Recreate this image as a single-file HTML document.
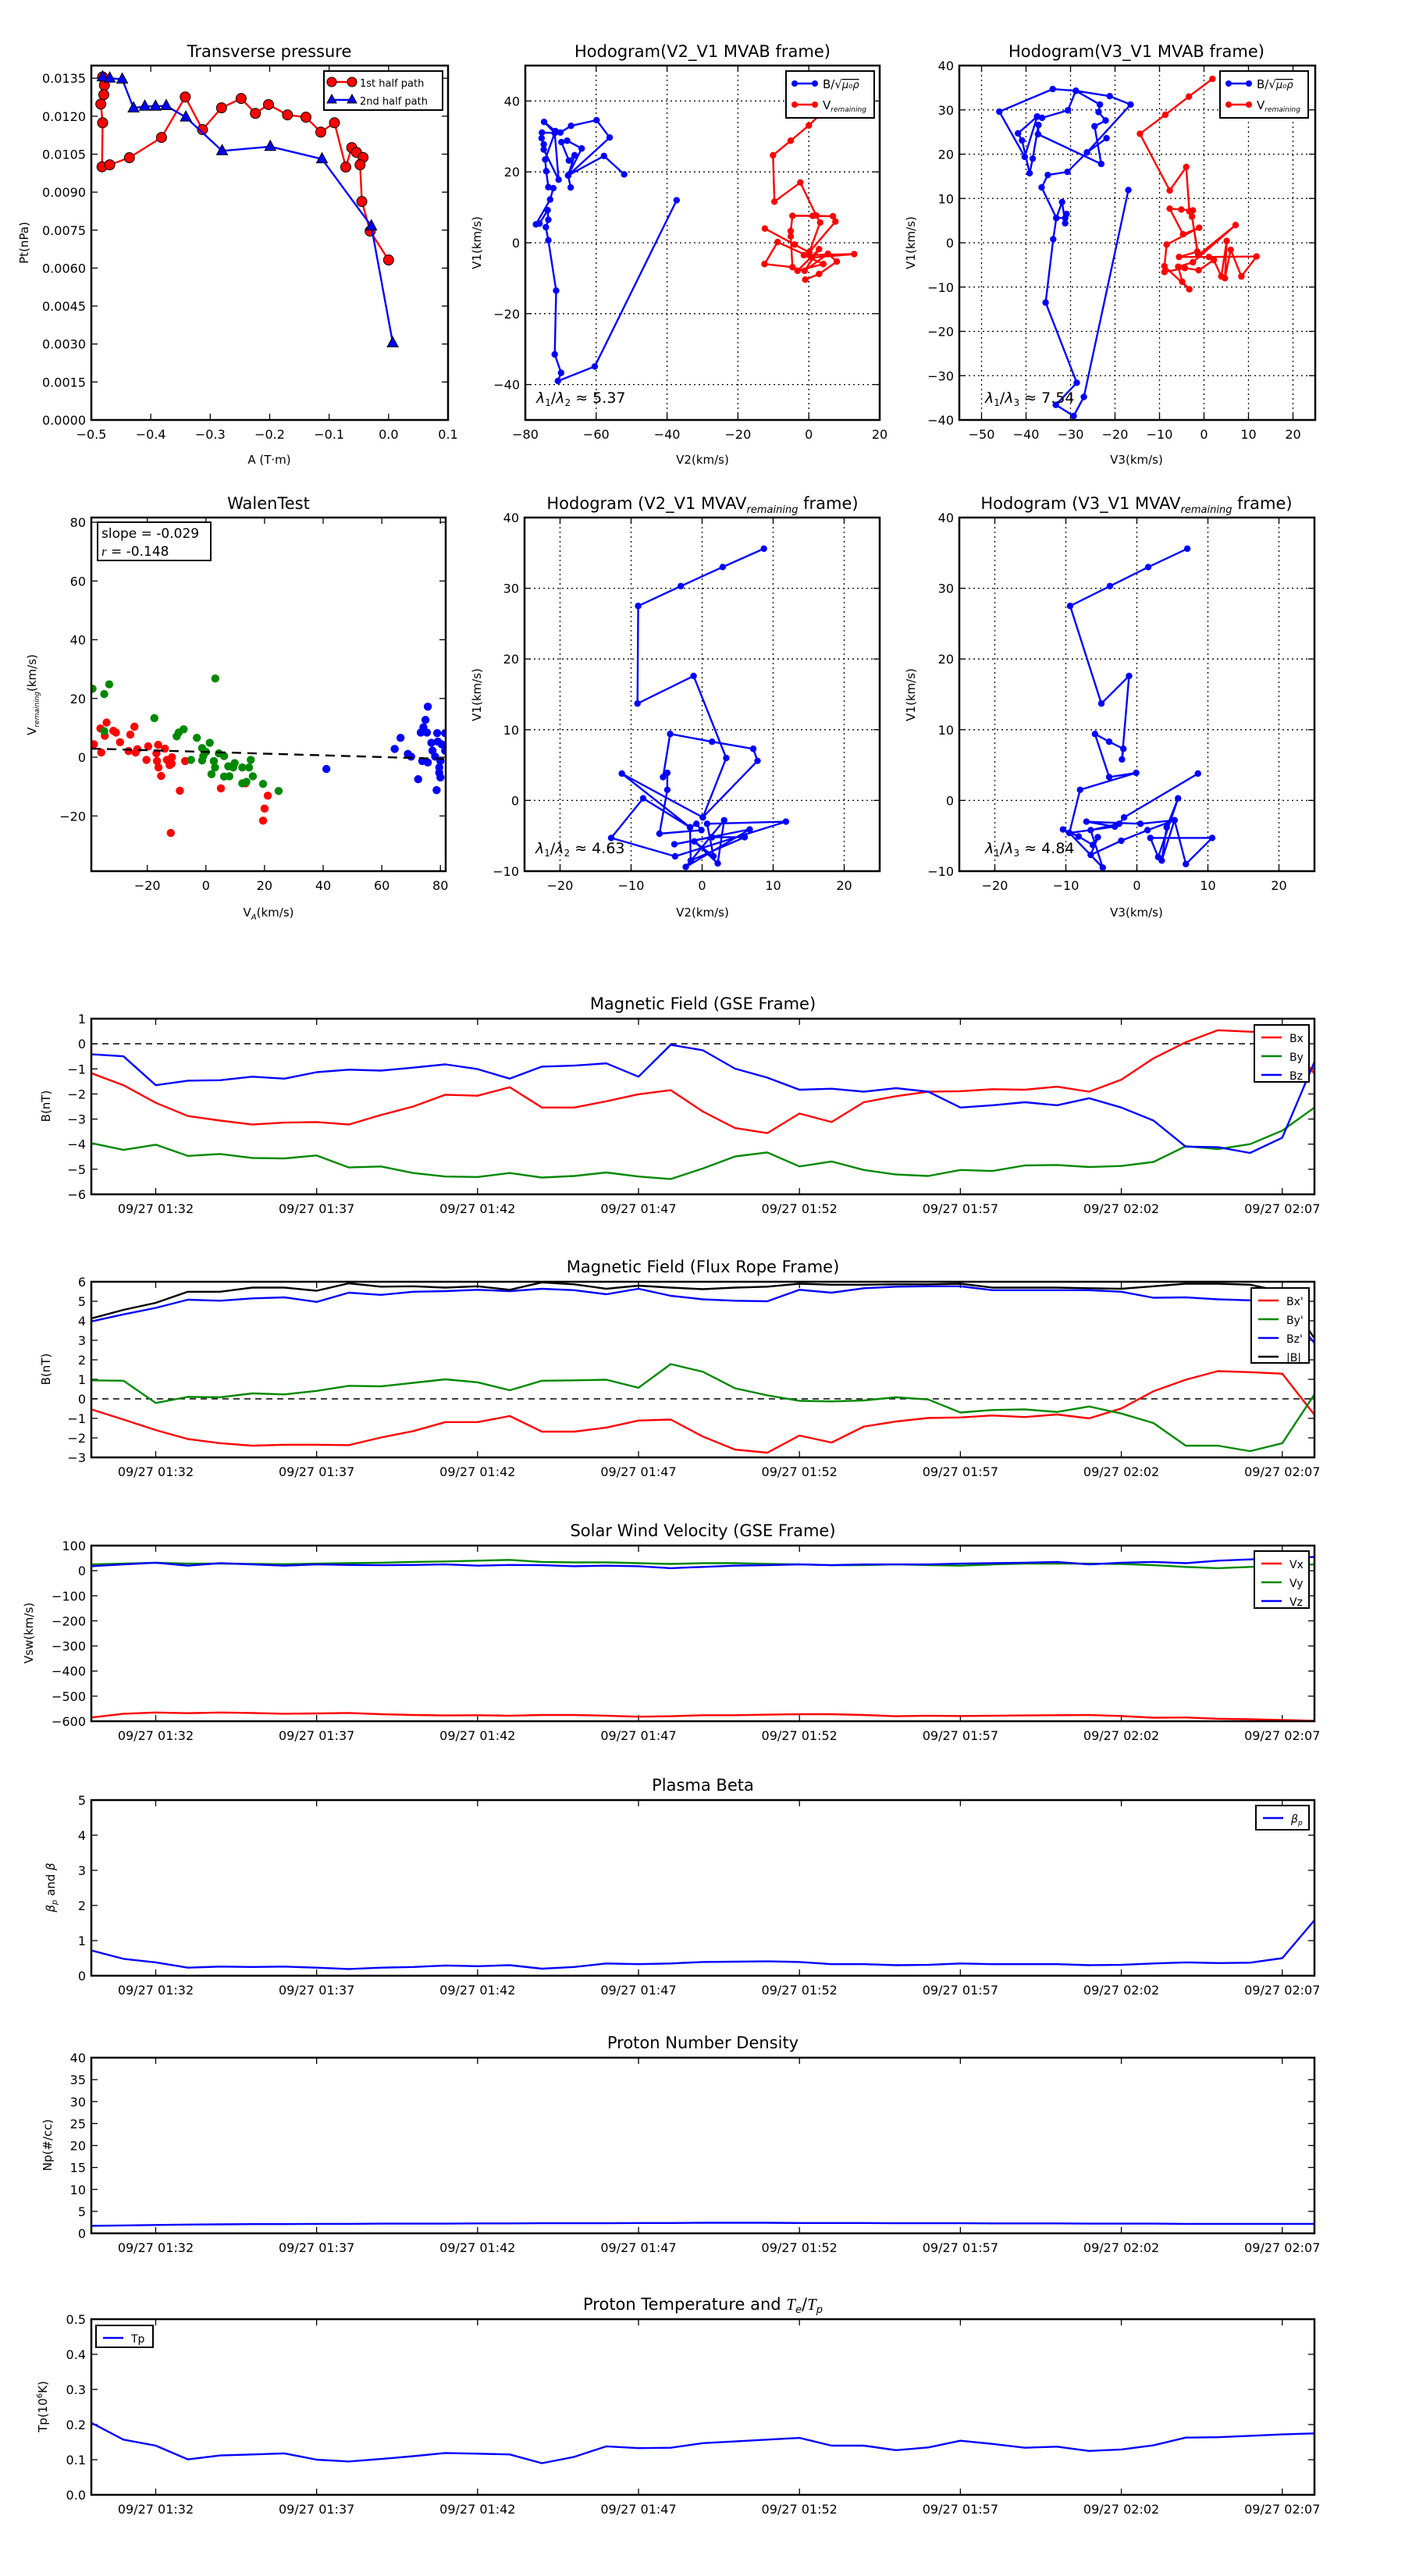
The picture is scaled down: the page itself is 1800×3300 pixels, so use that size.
<!DOCTYPE html>
<html><head><meta charset="utf-8">
<style>
html,body{margin:0;padding:0;background:#fff;}
svg{display:block;font-family:"DejaVu Sans","Liberation Sans",sans-serif;}
</style></head>
<body>
<svg id="fig" xmlns="http://www.w3.org/2000/svg" width="1800" height="3300" viewBox="0 0 1800 3300"></svg>
<script>
// ---------------- DATA ----------------
const pt1A = [-0.481,-0.478,-0.479,-0.484,-0.481,-0.482,-0.469,-0.436,-0.382,-0.342,-0.313,-0.281,-0.248,-0.224,-0.202,-0.170,-0.139,-0.114,-0.091,-0.072,-0.062,-0.054,-0.043,-0.048,-0.045,-0.031,0.0];
const pt1P = [0.01355,0.01322,0.01285,0.01248,0.01174,0.0100,0.01008,0.01036,0.01116,0.01276,0.01147,0.01233,0.0127,0.01211,0.01246,0.01205,0.01196,0.01137,0.01174,0.00999,0.01076,0.01057,0.01037,0.01008,0.00863,0.00746,0.00632];
const pt2A = [-0.481,-0.469,-0.448,-0.429,-0.410,-0.392,-0.374,-0.341,-0.280,-0.199,-0.112,-0.029,0.007];
const pt2P = [0.01355,0.0135,0.01346,0.01232,0.01239,0.01239,0.01241,0.01196,0.01063,0.0108,0.01031,0.00766,0.00304];
const ptYTicks = [0,0.0015,0.003,0.0045,0.006,0.0075,0.009,0.0105,0.012,0.0135];
const ptXTicks = [-0.5,-0.4,-0.3,-0.2,-0.1,0.0,0.1];

const mvabB21 = [[-52.1,19.3],[-57.8,24.5],[-67.9,19],[-67.2,15.6],[-67.9,19],[-66.1,24.7],[-67.7,23.2],[-69.8,28.4],[-68.2,28.8],[-64.1,26.6],[-67.9,19],[-56.2,29.7],[-59.9,34.6],[-67.1,33],[-70.1,31.1],[-71.5,31.5],[-74.7,34.1],[-71.7,31],[-75.3,31.1],[-75.4,29.5],[-74.8,27.8],[-74.8,26.3],[-70.6,17.8],[-71.7,31],[-74.4,23.5],[-74.1,20.2],[-73.5,15.7],[-72.1,15.4],[-73,12.2],[-77,5.2],[-76,5.4],[-73.7,9.2],[-73.5,6.5],[-74.2,4.4],[-73.5,0.7],[-71.3,-13.5],[-71.7,-31.5],[-69.9,-36.7],[-70.8,-39],[-60.4,-34.9],[-37.3,12]];
const mvabV21 = [[3,36],[0,33.1],[-5.1,28.8],[-10.1,24.7],[-9.7,11.6],[-2.4,17],[2.1,7.7],[3.2,5.7],[0.1,-2.7],[-4,-0.5],[-12.4,4],[0.1,-2.7],[7.5,6],[6.8,7.5],[1.1,7.6],[-4.6,7.6],[-5.1,3.3],[-5.1,1.8],[-4.6,-6.9],[-12.5,-6],[-8.8,0.2],[0.8,-4.2],[12.8,-3.2],[-1.4,-3.5],[4.1,-6],[-3.2,-7.9],[2.9,-1.8],[-1.2,-7.9],[5.4,-3.1],[7.9,-5.3],[2.9,-8.8],[-1,-10.4]];
const mvabB31 = [[-17,11.9],[-27,-34.8],[-29.3,-39.1],[-33.3,-36.6],[-28.6,-31.6],[-35.6,-13.5],[-33.9,0.8],[-33.2,5.6],[-31.2,5.6],[-30.9,6.5],[-31.2,4.4],[-31.9,9.2],[-33.2,5.6],[-36.5,12.5],[-35.1,15.3],[-30.7,16],[-26.3,20.4],[-21.9,23.6],[-26.3,20.4],[-16.5,31.2],[-21.2,33.1],[-28.8,34.3],[-30.6,29.9],[-36.4,28.2],[-37.5,28.5],[-41.8,24.7],[-40.9,23.1],[-39.2,15.7],[-38.5,19],[-37.2,26.6],[-37.3,24.5],[-23.1,17.8],[-24.6,26.3],[-22.1,27.6],[-23.7,29.5],[-23.4,31.2],[-28.8,34.3],[-34,34.7],[-46,29.6],[-40.3,19.4],[-37.5,28.5]];
const mvabV31 = [[1.9,37],[-3.4,33],[-8.7,28.9],[-14.4,24.6],[-7.7,11.8],[-4,17.1],[-3.3,7.1],[-2.5,7.3],[-5.1,7.5],[-7.7,7.7],[-4.7,1.9],[-1.1,3.4],[-8.4,-0.4],[-8.9,-5.3],[-3.3,-10.5],[-4.9,-8.8],[-5.8,-5.4],[-2.5,-4.4],[7.1,4],[-1.3,-2.8],[-2.7,5.9],[-1.5,-2],[-5.6,-3.2],[1.1,-3.2],[11.8,-3.1],[8.4,-7.6],[6,-1.6],[4.7,-8],[5.1,0.4],[3.9,-7.6],[2.2,-3.9],[-1.2,-6.2],[-4.3,-5.7],[-8.9,-6.6]];
const walenRed = [[-38.2,4.4],[-35.7,1.6],[-36,9.8],[-33.9,11.8],[-34.5,7.3],[-31.6,9],[-30.7,8.4],[-29.3,5.1],[-26.4,2.1],[-25.8,7.7],[-24.4,10.4],[-24,1.6],[-23.4,2.7],[-20.3,-0.9],[-19.7,3.7],[-16.9,1.3],[-16.3,4.2],[-14,2.9],[-16.7,-1.3],[-16.2,-3.5],[-15.3,-6.4],[-13.3,-0.9],[-12.4,-2.7],[-11.6,0],[-11.7,-2.2],[-7.1,-1.3],[-8.9,-11.4],[-12,-25.8],[5.1,-10.6],[21.1,-13.1],[20,-17.5],[19.5,-21.6],[13.5,-8.9]];
const walenGreen = [[-38.7,23.3],[-33,24.8],[-34.7,21.5],[-34.7,8.9],[-17.6,13.3],[-10,7.1],[-9.3,8.4],[-7.6,9.5],[-3.1,6.6],[3.2,26.8],[-5.1,-0.9],[-1.3,3.1],[1.3,4.9],[-0.9,0.4],[0,1.8],[-1.3,-1.1],[2.7,-1.3],[4.4,1.3],[6.2,0.4],[3.1,-3.5],[1.9,-5.8],[6.2,-6.6],[8,-6.5],[7.6,-3.1],[9.8,-2],[9.3,-3.5],[12.4,-3.5],[14.7,-3.5],[15.3,-0.9],[16,-6.5],[12.4,-8.9],[13.8,-8.4],[19.5,-9.1],[24.8,-11.5]];
const walenBlue = [[41.1,-4],[64.4,2.8],[66.4,6.6],[68.9,1.1],[70,0.2],[72.4,-7.5],[73.3,8.4],[74.2,10.2],[74.9,12.7],[75.7,17.2],[75.4,8.4],[73.8,-1.3],[75.7,-1.8],[76.9,4.9],[77.3,2.2],[78.2,0.2],[78.9,8.2],[78.7,-11.2],[79.6,-3.5],[80,-6.9],[79.6,-5.3],[80.4,4.4],[81.6,8.2],[81.6,2.2],[80,-1.3],[79.1,5.3]];
const walenSlope = -0.029;
const walenIntercept = 1.8;
const mvavB21 = [[8.7,35.6],[2.9,33],[-3,30.3],[-9,27.5],[-9.1,13.7],[-1.2,17.6],[3.4,6],[0.1,-2.4],[7.8,5.6],[7.2,7.3],[1.4,8.3],[-4.5,9.4],[-5.5,3.3],[-4.9,3.9],[-4.9,1.5],[-6,-4.7],[-0.1,-4.2],[-0.8,-3.3],[-1.7,-3.8],[-1.6,-8.5],[6,-5.2],[1.4,-5.2],[-3.9,-6.2],[6.7,-4.1],[-2.3,-9.4],[3.1,-2.8],[2.2,-8.9],[-1.1,-5.8],[1.6,-7.9],[0.7,-3.3],[11.8,-3],[-3.8,-7.9],[-12.8,-5.3],[-8.3,0.3],[-1.7,-3.8],[-11.3,3.8],[0.1,-2.4]];
const mvavB31 = [[7.1,35.6],[1.6,33],[-3.8,30.3],[-9.4,27.5],[-5,13.7],[-1.1,17.6],[-2.1,5.8],[-1.9,7.3],[-3.9,8.3],[-5.9,9.4],[-3.9,3.3],[-0.1,3.9],[-8,1.5],[-9.5,-4.6],[-10.4,-4.1],[-8.2,-5.1],[-6.2,-6.3],[-5.5,-5.2],[-6.5,-7.7],[-2.2,-5.7],[1.5,-4.2],[5.3,-2.8],[3.5,-8.5],[4.2,-3.8],[5.8,0.3],[3,-8],[1.9,-5.3],[10.6,-5.3],[6.9,-9],[5.3,-2.8],[0.5,-3.3],[-7.1,-3],[-3.1,-3.7],[-9.5,-4.6],[-4.8,-9.5],[-6.5,-4.2],[-2.5,-3.3],[-1.8,-2.4],[8.6,3.8]];

const timeMinutes = Array.from({length:39},(_, i)=>i);
const timeTickMin = [2,7,12,17,22,27,32,37];
const timeTickLabels = ["09/27 01:32","09/27 01:37","09/27 01:42","09/27 01:47","09/27 01:52","09/27 01:57","09/27 02:02","09/27 02:07"];
const gseBx = [-1.17,-1.65,-2.35,-2.88,-3.06,-3.22,-3.14,-3.12,-3.22,-2.84,-2.5,-2.03,-2.07,-1.73,-2.54,-2.54,-2.29,-2.01,-1.85,-2.7,-3.36,-3.56,-2.78,-3.12,-2.33,-2.09,-1.91,-1.89,-1.81,-1.83,-1.71,-1.91,-1.43,-0.58,0.06,0.54,0.48,0.44,-1.19];
const gseBy = [-3.96,-4.23,-4.02,-4.47,-4.39,-4.55,-4.57,-4.45,-4.93,-4.89,-5.15,-5.29,-5.31,-5.15,-5.33,-5.27,-5.13,-5.29,-5.39,-4.97,-4.49,-4.33,-4.89,-4.69,-5.03,-5.21,-5.27,-5.03,-5.07,-4.85,-4.83,-4.91,-4.87,-4.71,-4.08,-4.2,-4.0,-3.46,-2.54];
const gseBz = [-0.42,-0.5,-1.65,-1.47,-1.45,-1.31,-1.39,-1.13,-1.03,-1.07,-0.95,-0.82,-1.01,-1.39,-0.91,-0.87,-0.78,-1.31,-0.04,-0.26,-0.99,-1.35,-1.83,-1.79,-1.91,-1.77,-1.91,-2.54,-2.45,-2.33,-2.45,-2.17,-2.54,-3.06,-4.1,-4.12,-4.35,-3.74,-0.72];
const frBx = [-0.54,-1.06,-1.6,-2.06,-2.27,-2.4,-2.35,-2.35,-2.37,-1.98,-1.65,-1.19,-1.19,-0.88,-1.68,-1.68,-1.47,-1.11,-1.06,-1.93,-2.6,-2.76,-1.88,-2.24,-1.42,-1.16,-0.98,-0.95,-0.85,-0.93,-0.8,-1.0,-0.49,0.39,0.98,1.42,1.37,1.29,-0.82];
const frBy = [0.95,0.93,-0.21,0.1,0.08,0.28,0.23,0.41,0.67,0.64,0.82,1.0,0.85,0.44,0.93,0.95,0.98,0.57,1.78,1.39,0.54,0.18,-0.1,-0.13,-0.08,0.08,-0.03,-0.7,-0.57,-0.54,-0.67,-0.39,-0.75,-1.24,-2.4,-2.4,-2.68,-2.27,0.23];
const frBz = [3.97,4.33,4.66,5.08,5.03,5.15,5.2,4.97,5.44,5.33,5.49,5.52,5.59,5.52,5.64,5.57,5.36,5.64,5.28,5.1,5.03,5.0,5.59,5.44,5.67,5.75,5.77,5.77,5.57,5.57,5.57,5.57,5.49,5.18,5.2,5.1,5.05,4.92,2.86];
const frBt = [4.12,4.56,4.92,5.49,5.49,5.7,5.7,5.54,5.92,5.75,5.77,5.7,5.77,5.59,5.97,5.87,5.64,5.8,5.7,5.62,5.7,5.75,5.9,5.85,5.85,5.87,5.87,5.9,5.7,5.7,5.7,5.67,5.64,5.77,5.9,5.9,5.85,5.5,3.1];
const vswVx = [-585,-570,-565,-568,-565,-567,-570,-569,-567,-572,-575,-577,-576,-578,-575,-575,-578,-582,-580,-576,-576,-574,-572,-572,-575,-580,-578,-579,-578,-577,-576,-575,-579,-586,-585,-590,-592,-595,-598];
const vswVy = [25,28,32,28,28,27,26,28,30,32,35,37,40,43,35,33,33,30,27,30,30,27,25,22,22,25,22,20,25,28,28,28,27,22,15,10,15,20,25];
const vswVz = [18,25,32,20,30,25,20,25,23,22,23,25,20,23,22,18,20,18,10,15,20,22,25,22,25,25,25,28,30,32,35,25,32,35,30,40,45,50,55];
const betaP = [0.72,0.48,0.38,0.23,0.26,0.25,0.26,0.23,0.19,0.23,0.25,0.29,0.27,0.3,0.2,0.25,0.35,0.33,0.35,0.39,0.4,0.41,0.39,0.33,0.33,0.3,0.31,0.35,0.33,0.33,0.33,0.3,0.31,0.35,0.38,0.36,0.37,0.5,1.58];
const npDens = [1.7,1.8,1.9,2.0,2.05,2.1,2.1,2.15,2.15,2.2,2.2,2.2,2.25,2.25,2.3,2.3,2.3,2.35,2.35,2.4,2.4,2.4,2.35,2.35,2.35,2.3,2.3,2.3,2.25,2.25,2.25,2.2,2.2,2.2,2.15,2.15,2.15,2.15,2.15];
const tpTemp = [0.205,0.157,0.14,0.101,0.112,0.115,0.118,0.1,0.095,0.102,0.11,0.119,0.117,0.115,0.09,0.108,0.138,0.133,0.134,0.147,0.152,0.157,0.162,0.14,0.14,0.127,0.135,0.154,0.145,0.134,0.137,0.125,0.129,0.141,0.163,0.164,0.168,0.172,0.175];

// ---------------- DRAWING ----------------
const NS='http://www.w3.org/2000/svg';
const svg=document.getElementById('fig');
function mk(tag, attrs, parent){
  const e=document.createElementNS(NS,tag);
  for(const k in attrs) e.setAttribute(k,attrs[k]);
  (parent||svg).appendChild(e);
  return e;
}
let clipId=0;
function axes(x0,y0,w,h,xmin,xmax,ymin,ymax,name){
  const g=mk('g',{});
  
  
  const id='clip'+(clipId++);
  const cp=mk('clipPath',{id:id},g);
  mk('rect',{x:x0,y:y0,width:w,height:h},cp);
  return {g,x0,y0,w,h,clip:id,
    sx:v=>x0+(v-xmin)/(xmax-xmin)*w,
    sy:v=>y0+h-(v-ymin)/(ymax-ymin)*h};
}
function frame(ax,xticks,xlabels,yticks,ylabels,grid,fs){
  fs=fs||16;
  const g=ax.g;
  if(grid){
    xticks.forEach(v=>{const X=ax.sx(v); if(X>ax.x0+1&&X<ax.x0+ax.w-1){
      const l=mk('line',{x1:X,x2:X,y1:ax.y0,y2:ax.y0+ax.h,stroke:'#000','stroke-width':1.3,'stroke-dasharray':'2,4'},g);
      
      }});
    yticks.forEach(v=>{const Y=ax.sy(v); if(Y>ax.y0+1&&Y<ax.y0+ax.h-1){
      const l=mk('line',{y1:Y,y2:Y,x1:ax.x0,x2:ax.x0+ax.w,stroke:'#000','stroke-width':1.3,'stroke-dasharray':'2,4'},g);
      
      }});
  }
  xticks.forEach((v,i)=>{
    const X=ax.sx(v);
    mk('line',{x1:X,x2:X,y1:ax.y0+ax.h,y2:ax.y0+ax.h-8,stroke:'#000','stroke-width':1.3},g);
    mk('line',{x1:X,x2:X,y1:ax.y0,y2:ax.y0+8,stroke:'#000','stroke-width':1.3},g);
    const t=mk('text',{x:X,y:ax.y0+ax.h+24,'text-anchor':'middle','font-size':fs,fill:'#000'},g);
    
    
    t.textContent=xlabels[i];
  });
  yticks.forEach((v,i)=>{
    const Y=ax.sy(v);
    mk('line',{y1:Y,y2:Y,x1:ax.x0,x2:ax.x0+8,stroke:'#000','stroke-width':1.3},g);
    mk('line',{y1:Y,y2:Y,x1:ax.x0+ax.w,x2:ax.x0+ax.w-8,stroke:'#000','stroke-width':1.3},g);
    const t=mk('text',{x:ax.x0-7,y:Y+6,'text-anchor':'end','font-size':fs,fill:'#000'},g);
    
    
    t.textContent=ylabels[i];
  });
}
function border(ax){
  const r=mk('rect',{x:ax.x0,y:ax.y0,width:ax.w,height:ax.h,fill:'none',stroke:'#000','stroke-width':2.5},ax.g);
  
  
}
function title(x,y,txt,fs){
  const t=mk('text',{x:x,y:y,'text-anchor':'middle','font-size':fs||21,fill:'#000'});
  
  
  t.textContent=txt;
  return t;
}
function label(x,y,txt,rot,fs){
  const t=mk('text',{x:x,y:y,'text-anchor':'middle','font-size':fs||16,fill:'#000',transform:rot?`rotate(-90 ${x} ${y})`:''});
  
  
  t.textContent=txt;
  return t;
}
function line(ax,xs,ys,color,name,extra){
  const pts=xs.map((x,i)=>ax.sx(x).toFixed(1)+','+ax.sy(ys[i]).toFixed(1)).join(' ');
  const p=mk('polyline',Object.assign({points:pts,fill:'none',stroke:color,'stroke-width':2.4,'stroke-linejoin':'round','clip-path':`url(#${ax.clip})`},extra||{}),ax.g);
  
  
  return p;
}
function dots(ax,pairs,color,r,name){
  pairs.forEach(p=>{
    const c=mk('circle',{cx:ax.sx(p[0]),cy:ax.sy(p[1]),r:r,fill:color,'clip-path':`url(#${ax.clip})`},ax.g);
    
    
  });
}
function pathPairs(ax,pairs,color,name){
  line(ax,pairs.map(p=>p[0]),pairs.map(p=>p[1]),color,name);
  dots(ax,pairs,color,4.2,name+'-point');
}
function range(a,b,s){const r=[];for(let v=a;v<=b+1e-9;v+=s)r.push(+v.toFixed(6));return r;}
function legendBox(x,y,w,h,name){
  const r=mk('rect',{x:x,y:y,width:w,height:h,fill:'#fff',stroke:'#000','stroke-width':2});
  
  
}
function legendLine(x,y,color,txt,fs,marker){
  const l=mk('line',{x1:x,x2:x+26,y1:y,y2:y,stroke:color,'stroke-width':2.4});
  
  
  if(marker==='dot'){mk('circle',{cx:x,cy:y,r:4,fill:color});mk('circle',{cx:x+26,cy:y,r:4,fill:color});}
  const t=mk('text',{x:x+36,y:y+6,'font-size':fs||15,fill:'#000'});
  
  
  t.textContent=txt;
  return t;
}

(function(){
  const ax=axes(117,84,457,454,-0.5,0.1,0,0.014,'transverse-pressure-chart');
  frame(ax,ptXTicks,ptXTicks.map(v=>v===0?'0.0':(v<0?'\u2212'+Math.abs(v).toFixed(1):v.toFixed(1))),ptYTicks,ptYTicks.map(v=>v.toFixed(4)),false);
  line(ax,pt1A,pt1P,'#f00','first-half-path-line');
  pt1A.forEach((a,i)=>{const c=mk('circle',{cx:ax.sx(a),cy:ax.sy(pt1P[i]),r:6.5,fill:'#f00',stroke:'#000','stroke-width':1},ax.g);
    
    });
  line(ax,pt2A,pt2P,'#00f','second-half-path-line');
  pt2A.forEach((a,i)=>{const X=ax.sx(a),Y=ax.sy(pt2P[i]);
    const c=mk('polygon',{points:`${X},${Y-8} ${X-7},${Y+5} ${X+7},${Y+5}`,fill:'#00f',stroke:'#000','stroke-width':1},ax.g);
    
    });
  border(ax);
  title(345,73,'Transverse pressure');
  label(345,594,'A (T\u00b7m)',false,15);
  label(36,311,'Pt(nPa)',true,15);
  legendBox(415,91,152,50,'pressure-legend');
  legendLine(425,105,'#f00','1st half path',13);
  mk('circle',{cx:425,cy:105,r:6,fill:'#f00',stroke:'#000'});mk('circle',{cx:451,cy:105,r:6,fill:'#f00',stroke:'#000'});
  legendLine(425,128,'#00f','2nd half path',13);
  mk('polygon',{points:'425,121 419,132 431,132',fill:'#00f',stroke:'#000'});mk('polygon',{points:'451,121 445,132 457,132',fill:'#00f',stroke:'#000'});
})();

function hodoLegend(x,y){
  legendBox(x,y,113,60,'hodogram-legend');
  const t1=legendLine(x+11,y+16,'#00f','',15,'dot');
  t1.innerHTML='B/\u221a<tspan font-style="italic" font-size="13" text-decoration="overline">\u03bc\u2080\u03c1</tspan>';
  const t2=legendLine(x+11,y+43,'#f00','',15,'dot');
  t2.innerHTML='V<tspan font-style="italic" font-size="9" dy="3">remaining</tspan>';
}
function lambdaText(x,y,sub,val){
  const t=mk('text',{x:x,y:y,'font-size':19,fill:'#000'});
  
  
  t.innerHTML=`<tspan font-style="italic">\u03bb</tspan><tspan font-size="12" dy="4">1</tspan><tspan dy="-4">/</tspan><tspan font-style="italic">\u03bb</tspan><tspan font-size="12" dy="4">${sub}</tspan><tspan dy="-4"> \u2248 ${val}</tspan>`;
}
function neg(v){return v<0?'\u2212'+Math.abs(v):String(v);}

(function(){
  const ax=axes(673,84,454,454,-80,20,-50,50,'hodogram-v2v1-mvab-chart');
  const xt=range(-80,20,20), yt=range(-40,40,20);
  frame(ax,xt,xt.map(neg),yt,yt.map(neg),true);
  pathPairs(ax,mvabB21,'#00f','b-field-path');
  pathPairs(ax,mvabV21,'#f00','v-remaining-path');
  border(ax);
  hodoLegend(1007,91);
  lambdaText(687,516,'2','5.37');
  title(900,73,'Hodogram(V2_V1 MVAB frame)');
  label(900,594,'V2(km/s)',false,15);
  label(616,311,'V1(km/s)',true,15);
})();
(function(){
  const ax=axes(1229,84,456,454,-55,25,-40,40,'hodogram-v3v1-mvab-chart');
  const xt=range(-50,20,10), yt=range(-40,40,10);
  frame(ax,xt,xt.map(neg),yt,yt.map(neg),true);
  pathPairs(ax,mvabB31,'#00f','b-field-path');
  pathPairs(ax,mvabV31,'#f00','v-remaining-path');
  border(ax);
  hodoLegend(1563,91);
  lambdaText(1262,516,'3','7.54');
  title(1456,73,'Hodogram(V3_V1 MVAB frame)');
  label(1456,594,'V3(km/s)',false,15);
  label(1172,311,'V1(km/s)',true,15);
})();
(function(){
  const ax=axes(117,663,454,453,-39.1,81.8,-38.8,81.6,'walen-test-chart');
  const xt=range(-20,80,20), yt=range(-20,80,20);
  frame(ax,xt,xt.map(neg),yt,yt.map(neg),false);
  dots(ax,walenRed,'#f00',5.2,'walen-point-red');
  dots(ax,walenGreen,'#080',5.2,'walen-point-green');
  dots(ax,walenBlue,'#00f',5.2,'walen-point-blue');
  const fx=[-39.1,81.8];
  line(ax,fx,fx.map(v=>walenIntercept+walenSlope*v),'#000','walen-fit-line',{'stroke-dasharray':'12,8'});
  border(ax);
  legendBox(125,669,145,49,'walen-stats-box');
  const t1=mk('text',{x:130,y:689,'font-size':17,fill:'#000'});
  
  
  t1.textContent='slope = -0.029';
  const t2=mk('text',{x:130,y:712,'font-size':17,fill:'#000'});
  
  
  t2.innerHTML='<tspan font-style="italic" font-family="Liberation Serif">r</tspan> = -0.148';
  title(344,652,'WalenTest');
  const xl=label(344,1174,'',false,15); xl.innerHTML='V<tspan font-size="10" dy="4" font-style="italic">A</tspan><tspan dy="-4">(km/s)</tspan>';
  const yl=label(46,890,'',true,15); yl.innerHTML='V<tspan font-size="9" dy="4" font-style="italic">remaining</tspan><tspan dy="-4">(km/s)</tspan>';
})();
function mvavTitle(x,comp){
  const t=title(x,652,'');
  t.innerHTML=`Hodogram (${comp}_V1 MVAV<tspan font-size="13" font-style="italic" dy="5">remaining</tspan><tspan dy="-5"> frame)</tspan>`;
}
(function(){
  const ax=axes(672,663,455,453,-25,25,-10,40,'hodogram-v2v1-mvav-chart');
  const xt=range(-20,20,10), yt=range(-10,40,10);
  frame(ax,xt,xt.map(neg),yt,yt.map(neg),true);
  pathPairs(ax,mvavB21,'#00f','b-field-path');
  border(ax);
  lambdaText(686,1093,'2','4.63');
  mvavTitle(900,'V2');
  label(900,1174,'V2(km/s)',false,15);
  label(616,890,'V1(km/s)',true,15);
})();
(function(){
  const ax=axes(1229,663,455,453,-25,25,-10,40,'hodogram-v3v1-mvav-chart');
  const xt=range(-20,20,10), yt=range(-10,40,10);
  frame(ax,xt,xt.map(neg),yt,yt.map(neg),true);
  pathPairs(ax,mvavB31,'#00f','b-field-path');
  border(ax);
  lambdaText(1262,1093,'3','4.84');
  mvavTitle(1456,'V3');
  label(1456,1174,'V3(km/s)',false,15);
  label(1172,890,'V1(km/s)',true,15);
})();

// ---- Time series panels ----
const TS_X0=117, TS_W=1567;
function tsPanel(top,ymin,ymax,yt,ylab,fmt,ttl,series,legend,ylabelX,zeroLine){
  const ax=axes(TS_X0,top,TS_W,225,0,38,ymin,ymax,ttl.toLowerCase().replace(/<[^>]*>/g,'').replace(/[^a-z0-9]+/g,'-')+'-chart');
  frame(ax,timeTickMin,timeTickLabels,yt,yt.map(fmt),false);
  if(zeroLine){
    const z=mk('line',{x1:ax.x0,x2:ax.x0+ax.w,y1:ax.sy(0),y2:ax.sy(0),stroke:'#000','stroke-width':1.5,'stroke-dasharray':'8,6'},ax.g);
    
    
  }
  series.forEach(s=>line(ax,timeMinutes,s.v,s.c,s.n));
  border(ax);
  const t=title(TS_X0+TS_W/2,top-12,'');
  t.innerHTML=ttl;
  const yl=label(ylabelX,top+112,'',true,15);
  yl.innerHTML=ylab;
  if(legend){
    const lx=legend.left?legend.x:(TS_X0+TS_W-7-legend.w);
    legendBox(lx,legend.y,legend.w,legend.h,'time-series-legend');
    series.forEach((s,i)=>{const lt=legendLine(lx+9,legend.y+16+i*24,s.c,'',14);lt.innerHTML=s.lab;});
  }
  return ax;
}
const fInt=v=>v<0?'\u2212'+Math.abs(v):String(v);
tsPanel(1305,-6,1,range(-6,1,1),'B(nT)',fInt,'Magnetic Field (GSE Frame)',
  [{v:gseBx,c:'#f00',n:'bx-line',lab:'Bx'},{v:gseBy,c:'#080',n:'by-line',lab:'By'},{v:gseBz,c:'#00f',n:'bz-line',lab:'Bz'}],
  {y:1313,w:70,h:73},64,true);
tsPanel(1642,-3,6,range(-3,6,1),'B(nT)',fInt,'Magnetic Field (Flux Rope Frame)',
  [{v:frBx,c:'#f00',n:'bx-prime-line',lab:"Bx'"},{v:frBy,c:'#080',n:'by-prime-line',lab:"By'"},{v:frBz,c:'#00f',n:'bz-prime-line',lab:"Bz'"},{v:frBt,c:'#000',n:'b-magnitude-line',lab:'|B|'}],
  {y:1650,w:74,h:96},64,true);
tsPanel(1980,-600,100,range(-600,100,100),'Vsw(km/s)',fInt,'Solar Wind Velocity (GSE Frame)',
  [{v:vswVx,c:'#f00',n:'vx-line',lab:'Vx'},{v:vswVy,c:'#080',n:'vy-line',lab:'Vy'},{v:vswVz,c:'#00f',n:'vz-line',lab:'Vz'}],
  {y:1987,w:70,h:73},42,false);
tsPanel(2306,0,5,range(0,5,1),'<tspan font-style="italic">\u03b2</tspan><tspan font-size="10" dy="3" font-style="italic">p</tspan><tspan dy="-3"> and </tspan><tspan font-style="italic">\u03b2</tspan>',fInt,'Plasma Beta',
  [{v:betaP,c:'#00f',n:'beta-p-line',lab:'<tspan font-style="italic">\u03b2</tspan><tspan font-size="9" dy="3" font-style="italic">p</tspan>'}],
  {y:2313,w:68,h:31},70,false);
tsPanel(2636,0,40,range(0,40,5),'Np(#/cc)',fInt,'Proton Number Density',
  [{v:npDens,c:'#00f',n:'np-line',lab:'Np'}],null,66,false);
tsPanel(2971,0,0.5,range(0,0.5,0.1),'Tp(10<tspan font-size="10" dy="-6">6</tspan><tspan dy="6">K)</tspan>',v=>v.toFixed(1),'Proton Temperature and <tspan font-style="italic" font-family="Liberation Serif">T</tspan><tspan font-size="13" dy="4" font-style="italic">e</tspan><tspan dy="-4">/</tspan><tspan font-style="italic" font-family="Liberation Serif">T</tspan><tspan font-size="13" dy="4" font-style="italic">p</tspan>',
  [{v:tpTemp,c:'#00f',n:'tp-line',lab:'Tp'}],{left:true,x:123,y:2979,w:73,h:28},60,false);
</script>
</body></html>
